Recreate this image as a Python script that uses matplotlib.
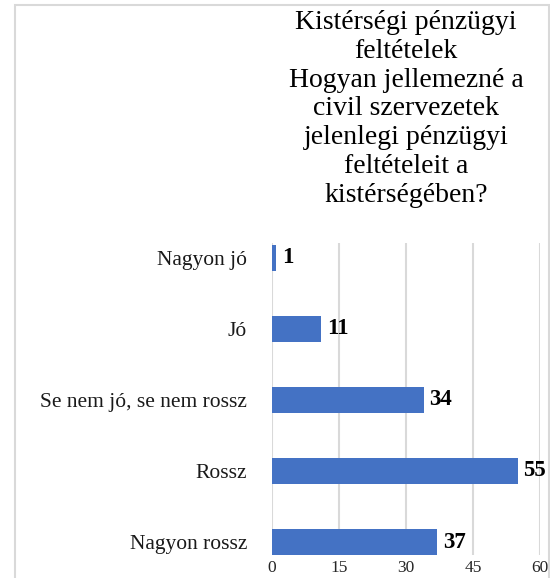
import matplotlib
matplotlib.use("Agg")
import matplotlib.pyplot as plt
from matplotlib.patches import Rectangle

categories = ["Nagyon jó", "Jó", "Se nem jó, se nem rossz", "Rossz", "Nagyon rossz"]
values = [1, 11, 34, 55, 37]
xticks = [0, 15, 30, 45, 60]
title = ("Kistérségi pénzügyi\nfeltételek\nHogyan jellemezné a\ncivil szervezetek\n"
         "jelenlegi pénzügyi\nfeltételeit a\nkistérségében?")

plt.rcParams['font.family'] = ['Liberation Serif', 'DejaVu Serif']

fig = plt.figure(figsize=(5.5, 5.78), dpi=100)
fig.patches.append(Rectangle((15 / 550, -0.2), (549 - 15) / 550, 1.2 - 5 / 578,
                             transform=fig.transFigure, fill=False,
                             edgecolor='#d9d9d9', linewidth=1.5, zorder=0))

ax = fig.add_axes([272 / 550, 23 / 578, 268 / 550, 312 / 578])
ypos = list(range(len(categories)))
ax.barh(ypos, values, height=0.366, color='#4472C4', zorder=3)
ax.set_ylim(4.183, -0.211)
ax.set_xlim(0, 60)
ax.set_xticks(xticks)
ax.set_xticklabels([str(t) for t in xticks], fontsize=12.5, color='#262626')
ax.set_yticks(ypos)
ax.set_yticklabels(categories, fontsize=15.5, color='#1a1a1a')
ax.tick_params(axis='both', length=0)
ax.tick_params(axis='y', pad=18)
ax.tick_params(axis='x', pad=3.5)
for s in ax.spines.values():
    s.set_visible(False)
ax.grid(axis='x', color='#d9d9d9', linewidth=1.5, zorder=0)
ax.set_axisbelow(True)

for y, v in zip(ypos, values):
    ax.annotate(str(v), (v, y), xytext=(4, 0), textcoords='offset points',
                va='center', ha='left', fontsize=16.5, fontweight='bold', color='black')

fig.text(406 / 550, 1 - 10 / 578, title, ha='center', va='top', fontsize=20,
         linespacing=1.2, color='black')

fig.savefig('out.png', dpi=100)
